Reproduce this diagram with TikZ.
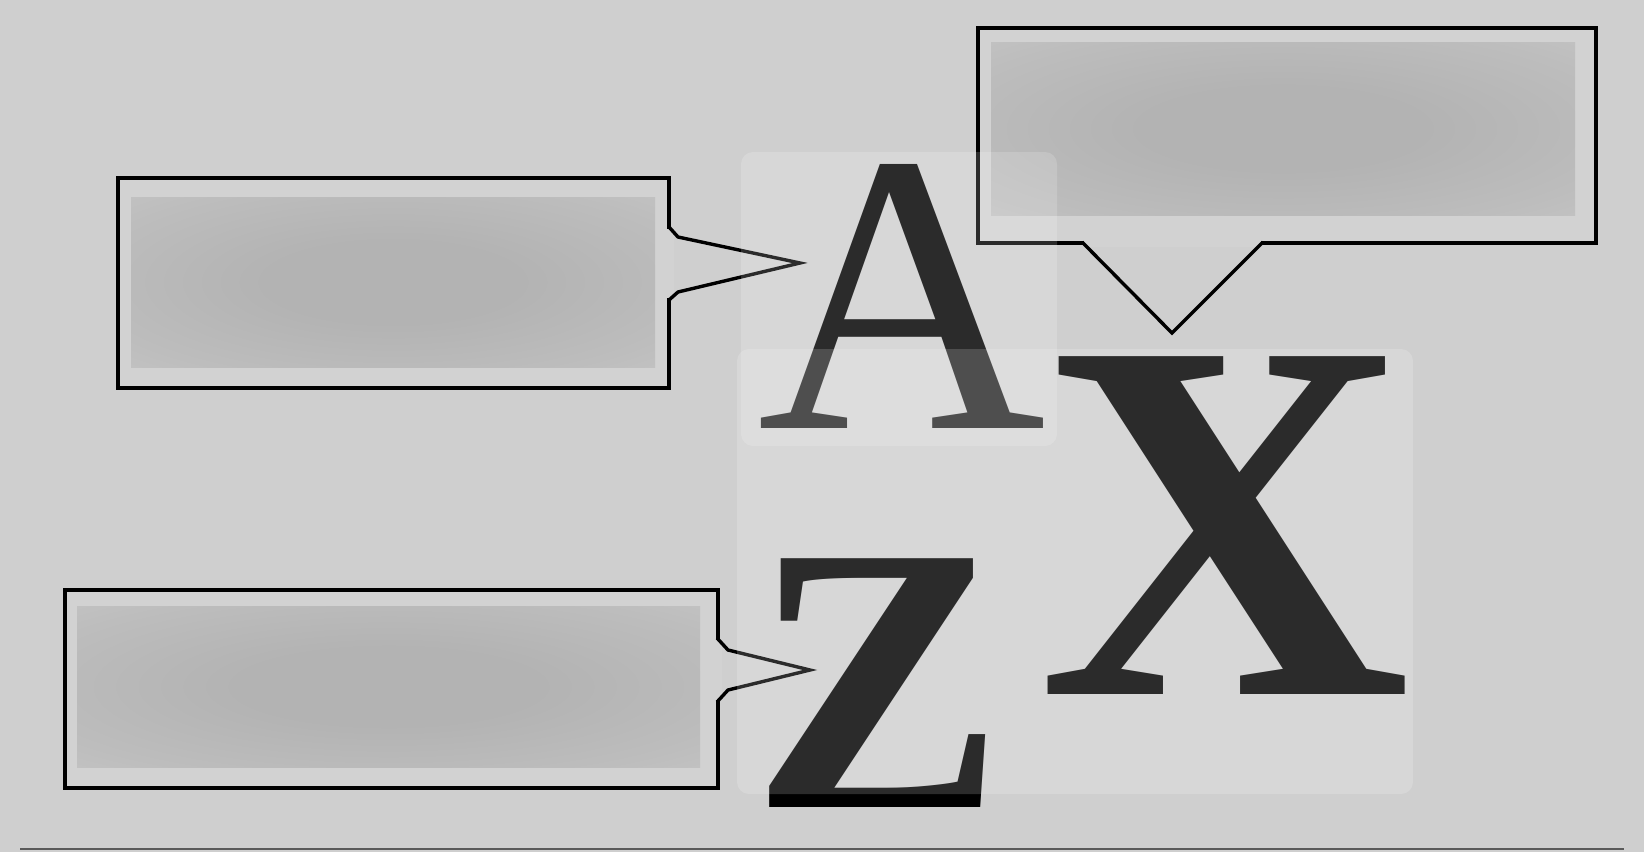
\documentclass[tikz,border=0pt]{standalone}
\usepackage{fontspec}
\setmainfont{Liberation Serif}
\definecolor{pagegray}{HTML}{CFCFCF}
\definecolor{boxgray}{HTML}{D2D2D2}
\definecolor{blurout}{HTML}{C9C9C9}
\definecolor{blurmid}{HTML}{BDBDBD}
\definecolor{blurin}{HTML}{B3B3B3}
\definecolor{edgegray}{HTML}{5A5A5A}
\pgfdeclareradialshading{blurpatch}{\pgfpoint{0bp}{0bp}}{color(0bp)=(blurin); color(12bp)=(blurin); color(30bp)=(blurmid); color(46bp)=(blurout); color(80bp)=(blurout)}
\tikzset{
  callbox/.style={draw=black, line width=1.7pt, fill=boxgray, inner sep=0pt},
  pointer/.style={draw=black, line width=1.7pt, line join=miter},
  blur/.style={shading=blurpatch},
  letter/.style={inner sep=0pt, anchor=base, text=black},
  veil/.style={fill=white, fill opacity=0.17, rounded corners=6pt},
}
\begin{document}
\begin{tikzpicture}[x=0.5pt,y=-0.5pt]
    \useasboundingbox (0,0) rectangle (1644,852);
    \fill[pagegray] (0,0) rectangle (1644,852);
    \draw[edgegray, line width=1.2pt] (20,849) -- (1624,849);

    % callout boxes
    \node[callbox, minimum width=275.5pt, minimum height=105pt] (boxA) at (393.5,283) {};
    \shade[blur] (131,197) rectangle (655,367);
    \coordinate (tipA) at (800,263);
    \fill[boxgray] (664,229) rectangle (674,298);
    \draw[pointer] (669,227) -- (678,237) -- (tipA) -- (678,292) -- (669,300);

    \node[callbox, minimum width=309pt, minimum height=107.5pt] (boxX) at (1287,135.5) {};
    \shade[blur] (991,42) rectangle (1575,215);
    \coordinate (tipX) at (1172,333);
    \fill[boxgray] (1084,238) rectangle (1261,247);
    \draw[pointer] (1082,242) -- (tipX) -- (1263,242);

    \node[callbox, minimum width=326.5pt, minimum height=99pt] (boxZ) at (391.5,689) {};
    \shade[blur] (77,606) rectangle (700,767);
    \coordinate (tipZ) at (810,670);
    \fill[boxgray] (713,640) rectangle (722,700);
    \draw[pointer] (717,638) -- (728,650) -- (tipZ) -- (728,690) -- (717,702);

    % letters
    \node[letter, font=\fontsize{200pt}{200pt}\selectfont] (A) at (902,428) {A};
    \node[letter, font=\bfseries\fontsize{258pt}{258pt}\selectfont] (X) at (1225,694) {X};
    \node[letter, font=\bfseries\fontsize{190pt}{190pt}\selectfont] (Z) at (878,807) {Z};

    % light panels over the letters
    \fill[veil] (741,152) rectangle (1057,446);
    \fill[veil] (737,349) rectangle (1413,794);
\end{tikzpicture}
\end{document}
